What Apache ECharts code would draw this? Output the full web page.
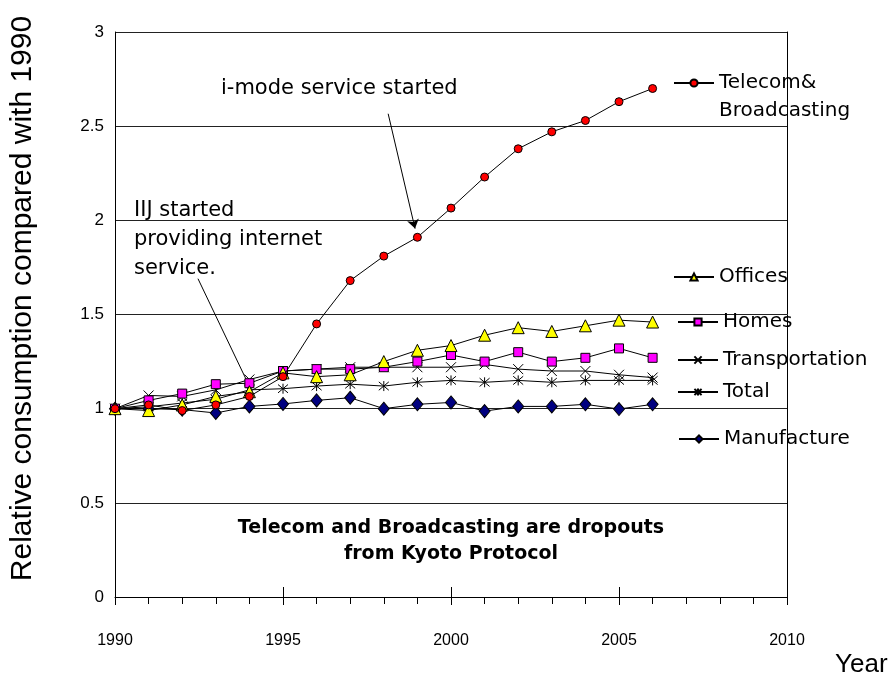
<!DOCTYPE html>
<html>
<head>
<meta charset="utf-8">
<script src="https://cdn.jsdelivr.net/npm/echarts@6/dist/echarts.min.js"></script>
<style>
  html, body { margin: 0; padding: 0; background: #fff; }
  #chart { width: 894px; height: 679px; }
</style>
</head>
<body>
<div id="chart"></div>
<script>
// Relative energy consumption by sector, 1990 = 1
const years = [1990, 1991, 1992, 1993, 1994, 1995, 1996, 1997, 1998, 1999, 2000, 2001, 2002, 2003, 2004, 2005, 2006];
const telecom = [1.00, 1.02, 0.99, 1.02, 1.065, 1.17, 1.45, 1.68, 1.81, 1.91, 2.065, 2.23, 2.38, 2.47, 2.53, 2.63, 2.70];
const offices = [1.00, 0.99, 1.02, 1.065, 1.09, 1.19, 1.17, 1.18, 1.25, 1.31, 1.335, 1.39, 1.43, 1.41, 1.44, 1.47, 1.46];
const homes = [1.00, 1.044, 1.08, 1.13, 1.135, 1.20, 1.21, 1.21, 1.22, 1.25, 1.285, 1.25, 1.30, 1.25, 1.27, 1.32, 1.27];
const transportation = [1.00, 1.07, 1.065, 1.10, 1.155, 1.20, 1.21, 1.22, 1.22, 1.22, 1.22, 1.235, 1.21, 1.20, 1.20, 1.18, 1.165];
const total = [1.00, 1.01, 1.03, 1.05, 1.10, 1.106, 1.12, 1.13, 1.12, 1.14, 1.15, 1.14, 1.15, 1.14, 1.15, 1.15, 1.15];
const manufacture = [1.00, 1.00, 0.995, 0.977, 1.012, 1.025, 1.044, 1.058, 1.00, 1.023, 1.033, 0.987, 1.012, 1.012, 1.023, 0.998, 1.023];

const yTicks = [0, 0.5, 1, 1.5, 2, 2.5, 3];
const xTicks = [1990, 1995, 2000, 2005, 2010];

// Annotation pointers, in data coordinates [year, value]
const imodeArrowFrom = [1998.13, 2.566];
const imodeArrowTo = [1998.93, 1.956];
const iijLineFrom = [1992.47, 1.69];
const iijLineTo = [1993.96, 1.134];

const FONT_TEXT = 'DejaVu Sans';
const FONT_AXIS = '"Liberation Sans", Arial, sans-serif';

const pairs = vals => years.map((y, i) => [y, vals[i]]);

const X_MARK = 'path://M0,0L10,10M10,0L0,10';
const STAR_MARK = 'path://M0,0L10,10M10,0L0,10M5,-1L5,11';

function lineSeries(name, vals, symbol, size, fill, z) {
  return {
    name: name,
    type: 'line',
    data: pairs(vals),
    symbol: symbol,
    symbolSize: size,
    showAllSymbol: true,
    z: z,
    lineStyle: { color: '#000', width: 1 },
    itemStyle: { color: fill, borderColor: '#000', borderWidth: 1 },
    emphasis: { disabled: true }
  };
}

const series = [
  lineSeries('Manufacture', manufacture, 'diamond', [11, 13], '#000080', 2),
  lineSeries('Total', total, STAR_MARK, 10, '#000', 3),
  lineSeries('Transportation', transportation, X_MARK, 10, '#000', 4),
  lineSeries('Homes', homes, 'rect', 9, '#ff00ff', 5),
  lineSeries('Offices', offices, 'triangle', 12, '#ffff00', 6),
  lineSeries('Telecom&Broadcasting', telecom, 'circle', 8, '#ff0000', 7)
];

// Pointers for the two annotations
series[5].markLine = {
  silent: true,
  animation: false,
  symbolSize: 9,
  label: { show: false },
  lineStyle: { color: '#000', width: 1, type: 'solid' },
  data: [
    [{ coord: imodeArrowFrom, symbol: 'none' }, { coord: imodeArrowTo, symbol: 'arrow' }],
    [{ coord: iijLineFrom, symbol: 'none' }, { coord: iijLineTo, symbol: 'none' }]
  ]
};

function legendFor(name, left, top, extra) {
  const l = {
    data: [name],
    left: left,
    top: top,
    padding: 0,
    selectedMode: false,
    itemWidth: 40,
    itemHeight: 9,
    textStyle: { fontFamily: FONT_TEXT, fontSize: 20, color: '#000', lineHeight: 24 }
  };
  return Object.assign(l, extra || {});
}

const legends = [
  // blank first line keeps the icon level with "Telecom&"
  legendFor('Telecom&Broadcasting', 673, 41, {
    formatter: ' \nTelecom&\nBroadcasting',
    textStyle: { fontFamily: FONT_TEXT, fontSize: 20, color: '#000', lineHeight: 28 }
  }),
  legendFor('Offices', 673, 265),
  legendFor('Homes', 677, 310),
  legendFor('Transportation', 677, 348),
  legendFor('Total', 677, 380),
  legendFor('Manufacture', 678, 427)
];

const chart = echarts.init(document.getElementById('chart'), null, { renderer: 'canvas' });

chart.setOption({
  animation: false,
  backgroundColor: '#fff',
  grid: { left: 115, right: 107, top: 32, bottom: 82, containLabel: false, outerBoundsMode: 'none' },
  legend: legends,
  xAxis: [
    {
      type: 'value',
      min: xTicks[0],
      max: xTicks[xTicks.length - 1],
      interval: 5,
      name: 'Year',
      nameLocation: 'end',
      nameGap: 48,
      nameTextStyle: { fontFamily: FONT_AXIS, fontSize: 26, color: '#000', verticalAlign: 'top', lineHeight: 28, padding: [54, 0, 0, 0] },
      axisLine: { lineStyle: { color: '#000', width: 1 } },
      axisTick: { show: true, inside: false, length: 8, lineStyle: { color: '#000' } },
      minorTick: { show: true, splitNumber: 5, length: 7, lineStyle: { color: '#000' } },
      axisLabel: { fontFamily: FONT_AXIS, fontSize: 16, color: '#000', margin: 36, formatter: v => String(v) },
      splitLine: { show: false }
    },
    {
      type: 'value',
      position: 'bottom',
      min: xTicks[0],
      max: xTicks[xTicks.length - 1],
      interval: 5,
      axisLine: { show: false },
      axisTick: { show: true, inside: true, length: 10, lineStyle: { color: '#000' } },
      axisLabel: { show: false },
      splitLine: { show: false }
    }
  ],
  yAxis: [
    {
      type: 'value',
      min: yTicks[0],
      max: yTicks[yTicks.length - 1],
      interval: 0.5,
      name: 'Relative consumption compared with 1990',
      nameLocation: 'middle',
      nameGap: 77,
      nameTextStyle: { fontFamily: FONT_AXIS, fontSize: 30, color: '#000', padding: [0, 0, 0, 32] },
      axisLine: { show: true, lineStyle: { color: '#000', width: 1 } },
      axisTick: { show: false },
      axisLabel: { fontFamily: FONT_AXIS, fontSize: 17, color: '#000', margin: 11 },
      splitLine: { show: true, lineStyle: { color: '#222', width: 1 } }
    },
    {
      type: 'value',
      position: 'right',
      min: yTicks[0],
      max: yTicks[yTicks.length - 1],
      interval: 0.5,
      axisLine: { show: true, lineStyle: { color: '#000', width: 1 } },
      axisTick: { show: false },
      axisLabel: { show: false },
      splitLine: { show: false }
    }
  ],
  series: series,
  graphic: [
    {
      type: 'text', left: 221, top: 78, silent: true,
      style: { text: 'i-mode service started', fontFamily: FONT_TEXT, fontSize: 21, fill: '#000' }
    },
    {
      type: 'text', left: 134, top: 196, silent: true,
      style: { text: 'IIJ started\nproviding internet\nservice.', fontFamily: FONT_TEXT, fontSize: 21, lineHeight: 29, fill: '#000' }
    },
    {
      type: 'text', x: 451, y: 515, silent: true,
      style: {
        text: 'Telecom and Broadcasting are dropouts\nfrom Kyoto Protocol',
        fontFamily: FONT_TEXT, fontWeight: 'bold', fontSize: 19, lineHeight: 26,
        fill: '#000', align: 'center', verticalAlign: 'top'
      }
    }
  ]
});
</script>
</body>
</html>
